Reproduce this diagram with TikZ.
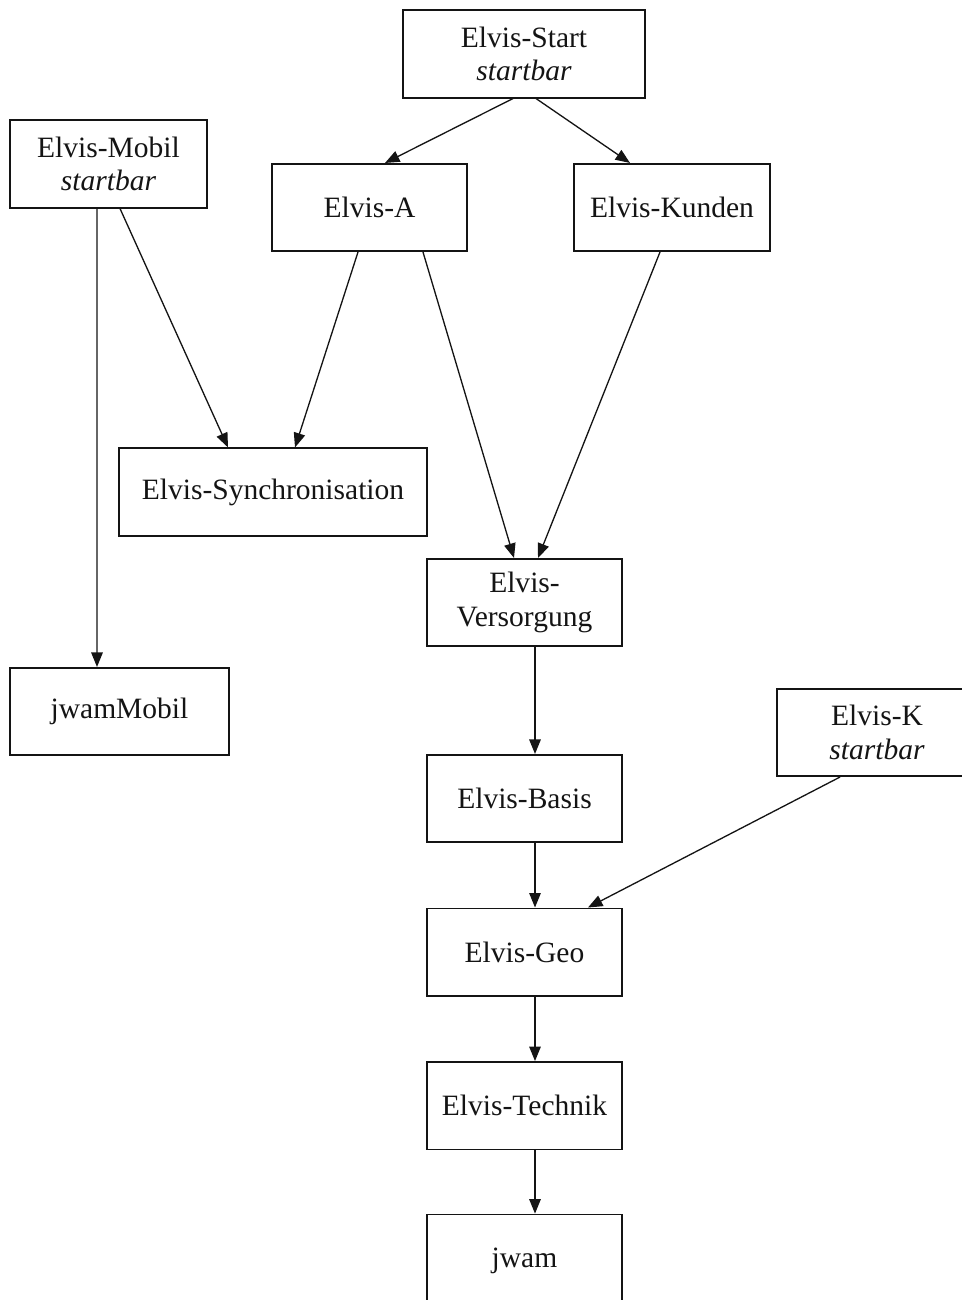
\documentclass[tikz,border=0pt]{standalone}
\usepackage{fontspec}
\setmainfont{Liberation Serif}
\usetikzlibrary{arrows.meta,positioning}
\definecolor{linegray}{RGB}{20,20,20}
\tikzset{
  box/.style={draw=linegray, line width=0.9pt, align=center, inner sep=0pt,
    minimum width=#1, minimum height=1.75cm, text=linegray,
    font=\fontsize{16.8}{19}\selectfont},
  box/.default=3.9cm,
  arrow/.style={-{Triangle[length=2.9mm,width=2.3mm]}, line width=0.75pt, draw=linegray}
}

\begin{document}
\begin{tikzpicture}[x=0.02cm, y=-0.02cm]
  \useasboundingbox (0,0) rectangle (962,1300);
  \clip (0,0) rectangle (962,1300);
  \node[box=4.84cm] (start) at (524,54) {Elvis-Start\\\textit{startbar}};
  \node[box=3.94cm] (mobil) at (108.5,164) {Elvis-Mobil\\\textit{startbar}};
  \node[box] (elvisa) at (369.5,207.5) {Elvis-A};
  \node[box=3.92cm] (kunden) at (672,207.5) {Elvis-Kunden};
  \node[box=6.16cm] (sync) at (273,492) {Elvis-Synchronisation};
  \node[box] (versorgung) at (524.5,602.5) {Elvis-\\Versorgung};
  \node[box=4.38cm] (jwmobil) at (119.5,711.5) {jwamMobil};
  \node[box=4cm] (elvisk) at (877,732.5) {Elvis-K\\\textit{startbar}};
  \node[box] (basis) at (524.5,798.5) {Elvis-Basis};
  \node[box, below=1.29cm of basis] (geo) {Elvis-Geo};
  \node[box, below=1.29cm of geo] (technik) {Elvis-Technik};
  \node[box, minimum height=1.85cm, below=1.27cm of technik] (jwam) {jwam};
  \draw[arrow] ([xshift=-0.22cm]start.south) -- ([xshift=0.31cm]elvisa.north);
  \draw[arrow] ([xshift=0.24cm]start.south) -- ([xshift=-0.84cm]kunden.north);
  \draw[arrow] ([xshift=-0.23cm]mobil.south) -- ([xshift=-0.45cm]jwmobil.north);
  \draw[arrow] ([xshift=0.23cm]mobil.south) -- ([xshift=-0.9cm]sync.north);
  \draw[arrow] ([xshift=-0.23cm]elvisa.south) -- ([xshift=0.44cm]sync.north);
  \draw[arrow] ([xshift=1.07cm]elvisa.south) -- ([xshift=-0.21cm]versorgung.north);
  \draw[arrow] ([xshift=-0.24cm]kunden.south) -- ([xshift=0.27cm]versorgung.north);
  \draw[arrow] ([xshift=0.21cm]versorgung.south) -- ([xshift=0.21cm]basis.north);
  \draw[arrow] ([xshift=0.21cm]basis.south) -- ([xshift=0.21cm]geo.north);
  \draw[arrow] ([xshift=-0.74cm]elvisk.south) -- ([xshift=1.27cm]geo.north);
  \draw[arrow] ([xshift=0.21cm]geo.south) -- ([xshift=0.21cm]technik.north);
  \draw[arrow] ([xshift=0.21cm]technik.south) -- ([xshift=0.21cm]jwam.north);
\end{tikzpicture}
\end{document}
